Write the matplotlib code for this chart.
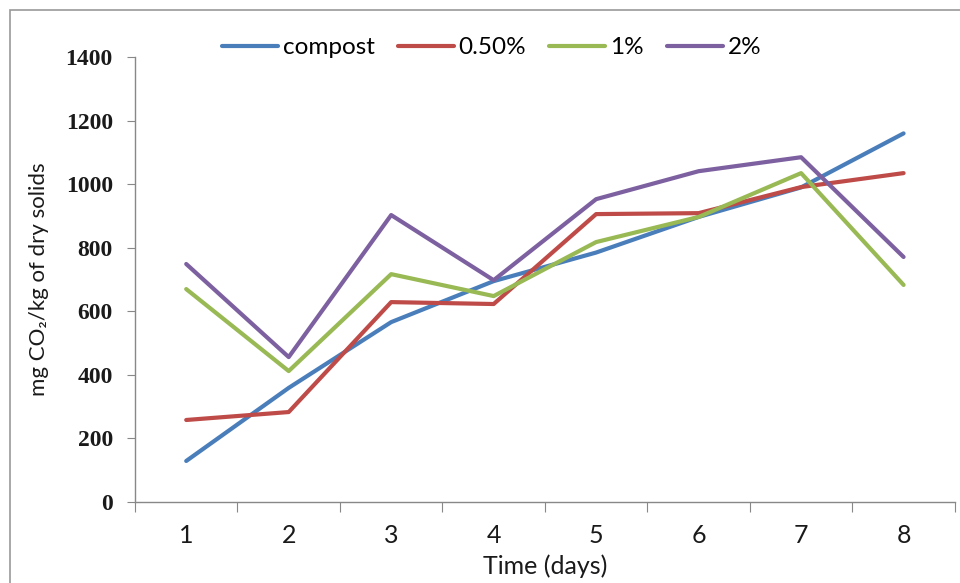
import matplotlib.pyplot as plt
from matplotlib.patches import Rectangle

days = [1, 2, 3, 4, 5, 6, 7, 8]
compost = [129, 359, 566, 695, 785, 897, 990, 1160]
half_pct = [258, 283, 629, 623, 906, 909, 991, 1035]
one_pct = [670, 412, 717, 648, 818, 897, 1035, 683]
two_pct = [749, 456, 903, 698, 953, 1041, 1085, 771]

labels = ["compost", "0.50%", "1%", "2%"]
colors = ["#4A7EBB", "#BE4B48", "#98B954", "#7D60A0"]

sans = ["Lato", "DejaVu Sans"]

fig = plt.figure(figsize=(9.6, 5.83), dpi=100)
ax = fig.add_axes([0.1406, 0.139, 0.854, 0.763])

for series, lab, col in zip([compost, half_pct, one_pct, two_pct], labels, colors):
    ax.plot(days, series, color=col, lw=3, label=lab, solid_capstyle="round")

ax.set_xlim(0.5, 8.5)
ax.set_ylim(0, 1400)
ax.set_yticks(range(0, 1401, 200))
ax.set_yticklabels([str(v) for v in range(0, 1401, 200)],
                   family="Liberation Serif", fontsize=17, fontweight="bold", color="#1a1a1a")

# category ticks sit between the days, labels at the days
ax.set_xticks([d + 0.5 for d in range(0, 9)])
ax.set_xticklabels([])
ax.set_xticks(days, minor=True)
ax.set_xticklabels([str(d) for d in days], minor=True, family=sans, fontsize=18, color="#1a1a1a")
ax.tick_params(axis="x", which="major", length=7, color="#888888", direction="out")
ax.tick_params(axis="x", which="minor", length=0, pad=16)
ax.tick_params(axis="y", length=6, color="#888888", direction="out", pad=10)

for s in ["top", "right"]:
    ax.spines[s].set_visible(False)
for s in ["left", "bottom"]:
    ax.spines[s].set_color("#888888")
    ax.spines[s].set_linewidth(1)

ax.set_xlabel("Time (days)", family=sans, fontsize=18, labelpad=5, color="#1a1a1a")
ax.set_ylabel("mg CO\u2082/kg of dry solids", family=sans, fontsize=16, labelpad=12, color="#1a1a1a")

ax.legend(loc="center", bbox_to_anchor=(0.435, 1.021), ncol=4, frameon=False,
          handlelength=2.3, handletextpad=0.2, columnspacing=0.95,
          prop={"family": sans, "size": 17.5})

# chart area border
fig.patches.append(Rectangle((0.0104, -0.1), 1.2, 1.083, transform=fig.transFigure,
                             fill=False, edgecolor="#999999", lw=1.2))

fig.savefig("out.png", dpi=100)
